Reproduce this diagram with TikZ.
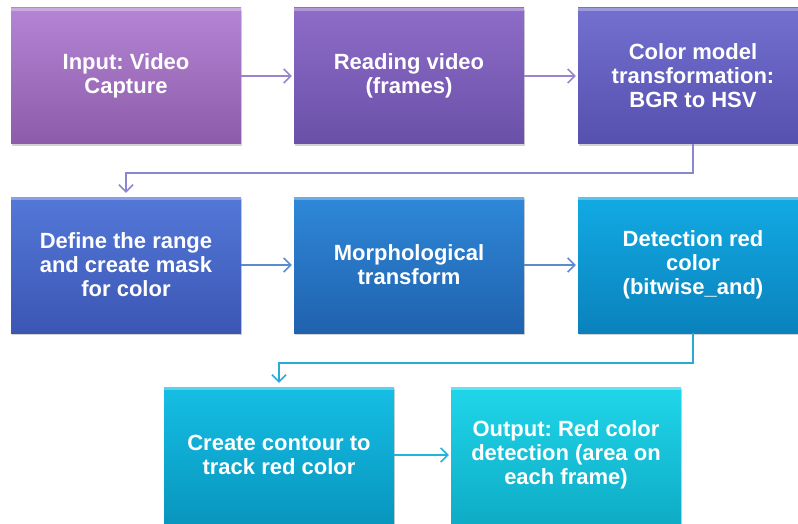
\documentclass[tikz,border=0pt]{standalone}
\usepackage{fontspec}
\setmainfont{Liberation Sans}
\usetikzlibrary{arrows.meta,shadows}
\frenchspacing
\definecolor{c1t}{HTML}{B485D4}\definecolor{c1b}{HTML}{8C5CAA}
\definecolor{c2t}{HTML}{8E6CC8}\definecolor{c2b}{HTML}{6A50A8}
\definecolor{c3t}{HTML}{7370D0}\definecolor{c3b}{HTML}{5650AE}
\definecolor{c4t}{HTML}{5378D8}\definecolor{c4b}{HTML}{3C56B4}
\definecolor{c5t}{HTML}{2E88D8}\definecolor{c5b}{HTML}{2062AE}
\definecolor{c6t}{HTML}{12AAE4}\definecolor{c6b}{HTML}{0A82BC}
\definecolor{c7t}{HTML}{16BEE4}\definecolor{c7b}{HTML}{0896BE}
\definecolor{c8t}{HTML}{20D6EA}\definecolor{c8b}{HTML}{0EACC6}
\definecolor{a1}{HTML}{9A86CC}
\definecolor{a2}{HTML}{8A86D0}
\definecolor{a3}{HTML}{5C8CD0}
\definecolor{a4}{HTML}{2AAAD8}
\definecolor{a5}{HTML}{22B4DA}
\tikzset{
  stepbox/.style n args={2}{rectangle, minimum width=230pt, minimum height=136pt,
    inner sep=0pt, top color=#1, bottom color=#2, text=white,
    align=center, font=\fontsize{22}{24}\selectfont\bfseries,
    drop shadow={opacity=0.35, shadow xshift=1pt, shadow yshift=-2pt},
    path picture={\fill[white,opacity=0.3] (path picture bounding box.north west) rectangle ([yshift=-3pt]path picture bounding box.north east);}},
  conn/.style={draw=#1, line width=1.8pt, -{Straight Barb[length=7pt,width=14pt,line width=1.6pt]}, shorten >=2pt}
}
\begin{document}
\begin{tikzpicture}[x=1pt,y=-1pt]
\clip (0,0) rectangle (798,524);
\fill[white] (0,0) rectangle (798,524);
\node[stepbox={c1t}{c1b}] (b1) at (126,76) {Input: Video\\Capture};
\node[stepbox={c2t}{c2b}] (b2) at (409,76) {Reading video\\(frames)};
\node[stepbox={c3t}{c3b}] (b3) at (693,76) {Color model\\transformation:\\BGR to HSV};
\node[stepbox={c4t}{c4b}] (b4) at (126,265) {Define the range\\and create mask\\for color};
\node[stepbox={c5t}{c5b}] (b5) at (409,265) {Morphological\\transform};
\node[stepbox={c6t}{c6b}] (b6) at (693,265) {Detection red\\color\\(bitwise\_and)};
\node[stepbox={c7t}{c7b}] (b7) at (279,455) {Create contour to\\track red color};
\node[stepbox={c8t}{c8b}] (b8) at (566,455) {Output: Red color\\detection (area on\\each frame)};
\coordinate (e1) at (693,173);
\coordinate (e2) at (693,363);
\draw[conn=a1] (b1) -- (b2);
\draw[conn=a1] (b2) -- (b3);
\draw[conn=a2, shorten >=4pt] (b3.south) -- (e1) -| (b4.north);
\draw[conn=a3] (b4) -- (b5);
\draw[conn=a3] (b5) -- (b6);
\draw[conn=a4, shorten >=4pt] (b6.south) -- (e2) -| (b7.north);
\draw[conn=a5] (b7) -- (b8);
\end{tikzpicture}
\end{document}
